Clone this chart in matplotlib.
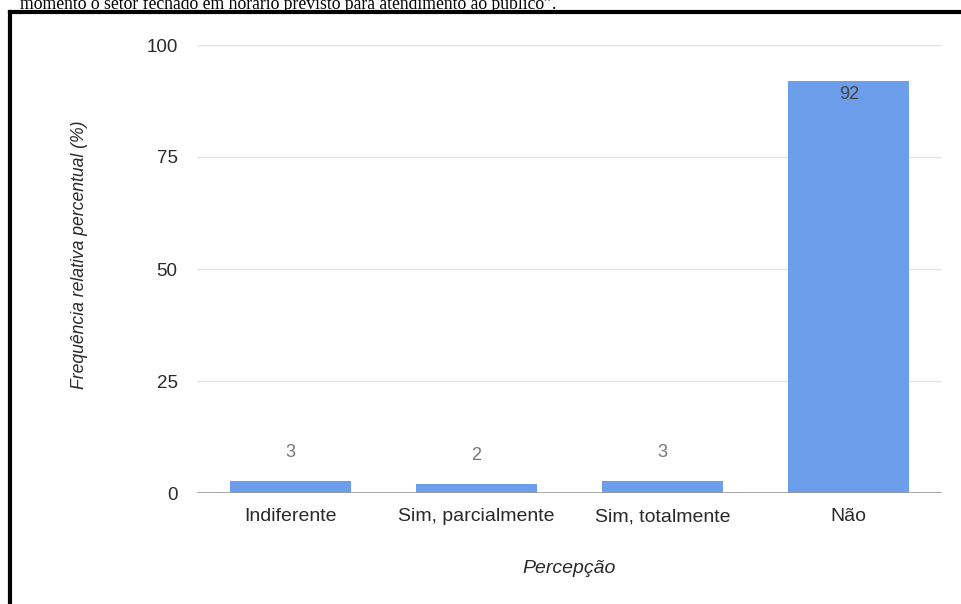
import matplotlib
matplotlib.use('Agg')
import matplotlib.pyplot as plt
import matplotlib.lines as mlines

plt.rcParams['font.family'] = ['Liberation Sans', 'DejaVu Sans']

# Data
categorias = ['Indiferente', 'Sim, parcialmente', 'Sim, totalmente', 'Não']
valores = [2.6, 1.9, 2.6, 92.0]
rotulos = ['3', '2', '3', '92']
yticks = [0, 25, 50, 75, 100]

W, H = 962, 604
fig = plt.figure(figsize=(W / 100, H / 100), dpi=100, facecolor='white')
ax = fig.add_axes([197 / W, 1 - 493 / H, (942 - 197) / W, (493 - 45) / H])

x = range(len(categorias))
ax.bar(x, valores, width=0.65, color='#6d9eeb', zorder=3)

# labels on bars
for i, (v, t) in enumerate(zip(valores, rotulos)):
    if v > 50:
        ax.annotate(t, (i, v), xytext=(0, -10), textcoords='offset points',
                    ha='center', va='center', fontsize=13, color='#444444', zorder=4)
    else:
        ax.annotate(t, (i, v), xytext=(0, 21), textcoords='offset points',
                    ha='center', va='center', fontsize=13, color='#777777', zorder=4)

# Decoration
ax.set_xlim(-0.5, len(categorias) - 0.5)
ax.set_ylim(0, 100)
ax.set_yticks(yticks)
ax.set_xticks(list(x))
ax.set_xticklabels(categorias)
for g in yticks[1:]:
    ax.axhline(g, color='#e4e4e4', linewidth=1, zorder=1)
ax.axhline(0, color='#999999', linewidth=1.2, zorder=4)
for s in ax.spines.values():
    s.set_visible(False)
ax.tick_params(axis='both', length=0, colors='#2a2a2a')
ax.tick_params(axis='y', pad=14, labelsize=13.5)
ax.tick_params(axis='x', pad=11, labelsize=14)
ax.set_ylabel('Frequência relativa percentual (%)', fontsize=12.7, style='italic',
              color='#2a2a2a')
ax.yaxis.set_label_coords((88 - 197) / 745, (493 - 255) / 448)
ax.set_xlabel('Percepção', fontsize=14, style='italic', color='#2a2a2a', labelpad=25)

# frame of the screenshot
fig.add_artist(mlines.Line2D([10 / W, 10 / W], [0, 1 - 12 / H], color='black',
                             linewidth=3, transform=fig.transFigure))
fig.add_artist(mlines.Line2D([10 / W, 1], [1 - 12 / H, 1 - 12 / H], color='black',
                             linewidth=3, transform=fig.transFigure))

# cut text above
fig.text(20 / W, 1 - 9 / H, 'momento o setor fechado em horário previsto para atendimento ao público”.',
         fontsize=12.7, family='Liberation Serif', va='baseline', ha='left', color='black')

fig.savefig('out.png', dpi=100, facecolor='white')
